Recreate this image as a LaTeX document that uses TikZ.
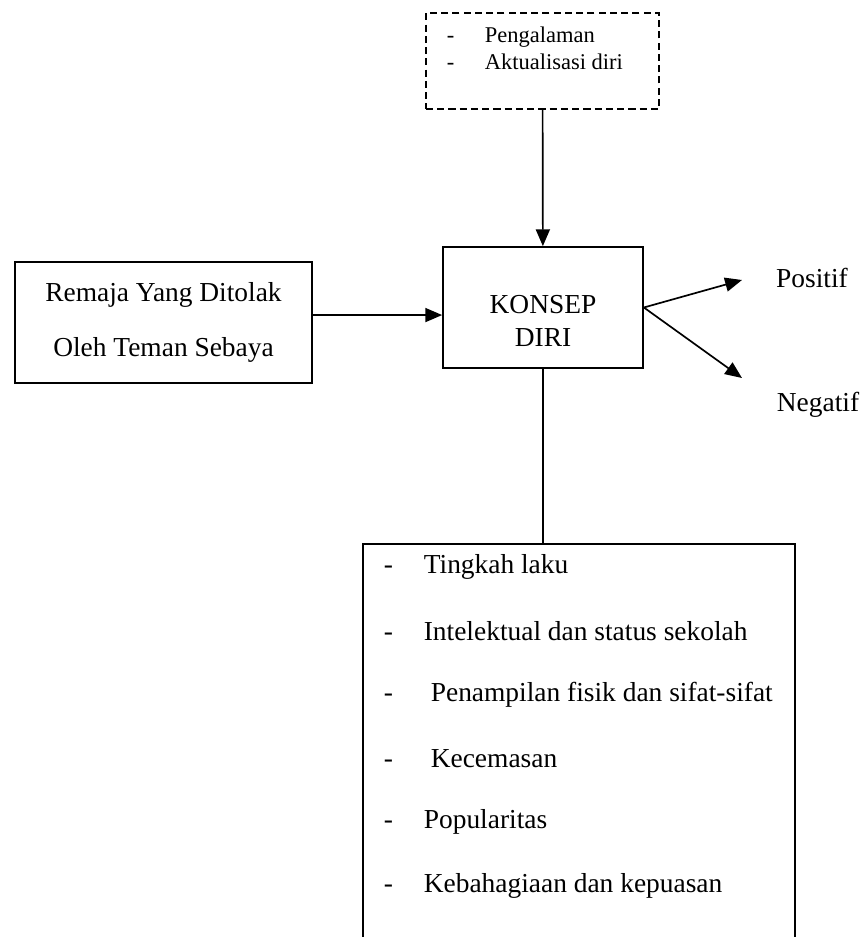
\documentclass[tikz,border=0pt]{standalone}
\usepackage{fontspec}
\setmainfont{Liberation Serif}
\usetikzlibrary{positioning,arrows.meta}

\begin{document}
\begin{tikzpicture}[x=0.025cm, y=-0.025cm, line width=1.2pt,
kotak/.style = {draw, rectangle, inner sep=0pt, align=center},
putus/.style = {draw, rectangle, inner sep=0pt, dash pattern=on 5pt off 3pt},
besar/.style = {font=\fontsize{19.5}{23}\selectfont, inner sep=0pt},
kecil/.style = {font=\fontsize{16}{19}\selectfont, inner sep=0pt, align=left},
panah/.style = {-{Triangle[length=12pt,width=10pt]}}]
\useasboundingbox (0,0) rectangle (867,937);
\clip (0,0) rectangle (867,937);

% kotak-kotak
\node[putus, minimum width=5.825cm, minimum height=2.4cm] (faktor) at (542.5,61) {};
\node[kecil, anchor=west] (faktorteks) at (446,48.5) {\makebox[27pt][l]{-}Pengalaman\\\makebox[27pt][l]{-}Aktualisasi diri};
\node[kotak, minimum width=5cm, minimum height=3.025cm] (konsep) at (543,307.5) {};
\node[besar, align=center] (konsepteks) at (543,321) {KONSEP\\DIRI};
\node[kotak, besar, minimum width=7.425cm, minimum height=3.025cm] (remaja) at (163.5,322.5) {Remaja Yang Ditolak\\[16pt]Oleh Teman Sebaya};
\node[kotak, minimum width=10.8cm, minimum height=11.425cm, anchor=north] (daftar) at (579,543) {};

% hasil
\node[besar] (positif) at (812,278) {Positif};
\node[besar] (negatif) at (818,405) {Negatif};
\coordinate (ujungpos) at (742,280);
\coordinate (ujungneg) at (742,378);

% isi daftar
\foreach \teks/\geser [count=\i] in {Tingkah laku/1cm, Intelektual dan status sekolah/1cm, Penampilan fisik dan sifat-sifat/1.175cm, Kecemasan/1.175cm, Popularitas/1cm, Kebahagiaan dan kepuasan/1cm}
  \node[besar, anchor=west] (butir\i) at (383,{567+63.8*(\i-1)}) {\makebox[\geser][l]{-}\teks};

\path[panah]
(faktor) edge (konsep)
(konsep.east) edge (ujungpos)
(konsep.east) edge (ujungneg)
;
\draw[panah] ([yshift=5.3pt]remaja.east) -- ([yshift=5.3pt]remaja.east -| konsep.west);
\draw (konsep.south) -- (konsep.south |- daftar.north);
\end{tikzpicture}
\end{document}
